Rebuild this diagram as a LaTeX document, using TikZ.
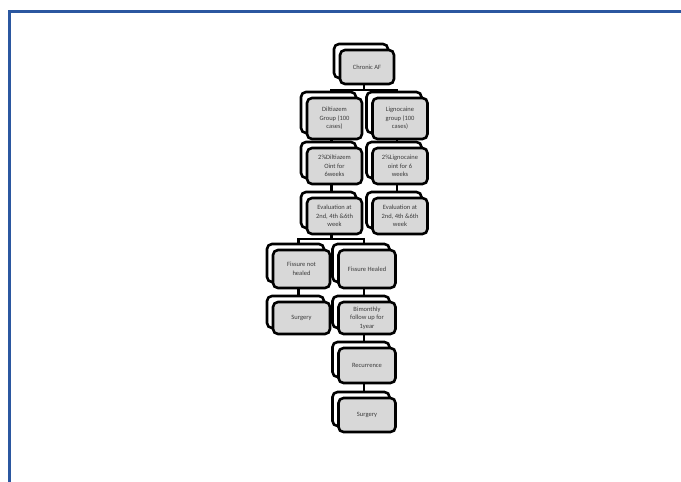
\documentclass[tikz,border=0pt]{standalone}
\usepackage{fontspec}
\setmainfont{Carlito}
\definecolor{frameblue}{RGB}{43,87,160}
\definecolor{boxgray}{RGB}{216,216,216}
\definecolor{txtgray}{RGB}{60,60,60}
\tikzset{
  backbox/.style={draw=black, line width=2.6pt, fill=white, rounded corners=5pt, inner sep=0pt},
  frontbox/.style={draw=black, line width=2.6pt, fill=boxgray, rounded corners=5pt, inner sep=0pt,
     align=center, text=txtgray, font=\fontsize{6.5}{8.6}\selectfont},
  link/.style={draw=black, line width=2.6pt},
}
% #1 name, #2 x, #3 y, #4 w, #5 h, #6 text
\newcommand{\stackbox}[6]{%
  \node[backbox, minimum width=#4pt, minimum height=#5pt] (#1b) at (#2-6,#3-6) {};
  \node[frontbox, minimum width=#4pt, minimum height=#5pt] (#1) at (#2,#3) {#6};
}
\begin{document}
\begin{tikzpicture}[x=1pt,y=-1pt]
\useasboundingbox (0,0) rectangle (681,482);
\fill[white] (0,0) rectangle (681,482);
% frame
\draw[frameblue, line width=3pt] (9.5,482) -- (9.5,11.5) -- (681,11.5);

% nodes
\stackbox{af}{367}{67}{54}{34}{Chronic AF}
\stackbox{dil}{334.5}{118.5}{55}{41}{Diltiazem\\Group (100\\cases)}
\stackbox{lig}{400}{118.5}{55}{41}{Lignocaine\\group (100\\cases)}
\stackbox{dilo}{334.5}{166}{55}{36}{2\%Diltiazem\\Oint for\\6weeks}
\stackbox{ligo}{400}{166}{55}{36}{2\%Lignocaine\\oint for 6\\weeks}
\stackbox{evl}{334.5}{216}{55}{36}{Evaluation at\\2nd, 4th \&6th\\week}
\stackbox{evr}{400}{216}{55}{36}{Evaluation at\\2nd, 4th \&6th\\week}
\stackbox{fnh}{301.5}{269}{57}{38}{Fissure not\\healed}
\stackbox{fh}{367}{269}{57}{38}{Fissure Healed}
\stackbox{surl}{301.5}{318}{57}{32}{Surgery}
\stackbox{bim}{367}{318}{57}{32}{Bimonthly\\follow up for\\1year}
\stackbox{rec}{367}{365.5}{57}{35}{Recurrence}
\stackbox{surb}{367}{415}{57}{34}{Surgery}

% connectors
\coordinate (j1) at (364,90);
\draw[link] ([xshift=-3pt]af.south) -- (j1);
\draw[link] (j1) -| ([xshift=3pt]dilb.north);
\draw[link] (j1) -| ([xshift=3pt]ligb.north);
\draw[link] ([xshift=-3pt]dil.south) -- ([xshift=3pt]dilob.north);
\draw[link] ([xshift=-3pt]lig.south) -- ([xshift=3pt]ligob.north);
\draw[link] ([xshift=-3pt]dilo.south) -- ([xshift=3pt]evlb.north);
\draw[link] ([xshift=-3pt]ligo.south) -- ([xshift=3pt]evrb.north);
\coordinate (j2) at (331.5,239);
\draw[link] ([xshift=-3pt]evl.south) -- (j2);
\draw[link] (j2) -| ([xshift=3pt]fnhb.north);
\draw[link] (j2) -| ([xshift=3pt]fhb.north);
\draw[link] ([xshift=-3pt]fnh.south) -- ([xshift=3pt]surlb.north);
\draw[link] ([xshift=-3pt]fh.south) -- ([xshift=3pt]bimb.north);
\draw[link] ([xshift=-3pt]bim.south) -- ([xshift=3pt]recb.north);
\draw[link] ([xshift=-3pt]rec.south) -- ([xshift=3pt]surbb.north);
\end{tikzpicture}
\end{document}
